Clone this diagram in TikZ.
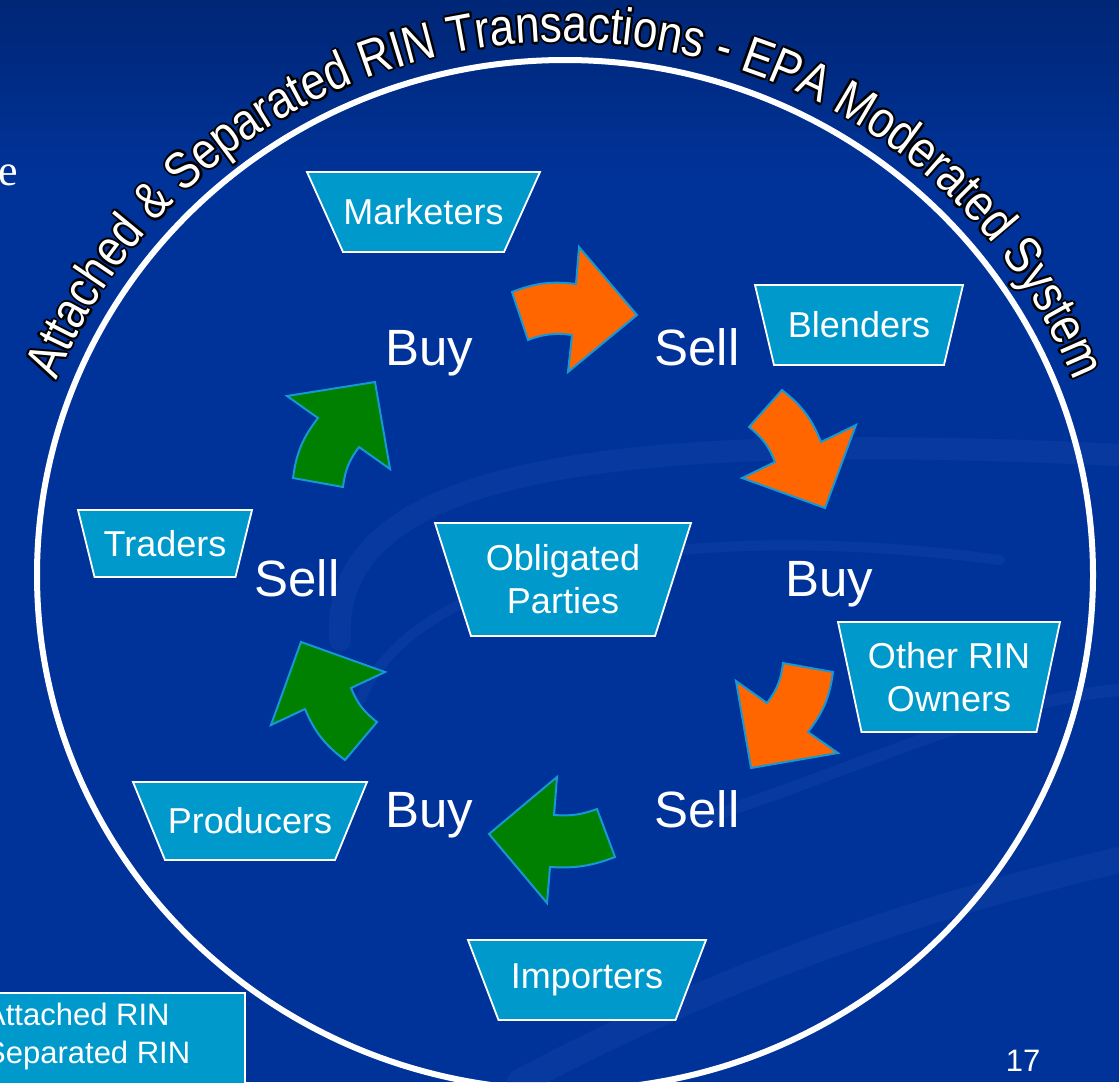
\documentclass[tikz,border=0pt]{standalone}
\usepackage{fontspec}
\setmainfont{Liberation Sans}
\newfontfamily\titlefont[FakeStretch=0.85]{Liberation Sans}
\newfontfamily\serifcut{Liberation Serif}
\usetikzlibrary{decorations.text}

\definecolor{slidenavy}{RGB}{0,38,118}
\definecolor{slideblue}{RGB}{0,51,153}
\definecolor{swirlblue}{RGB}{60,100,190}
\definecolor{partycyan}{RGB}{0,153,204}
\definecolor{rimcyan}{RGB}{22,152,212}
\definecolor{attorange}{RGB}{255,102,0}
\definecolor{sepgreen}{RGB}{0,128,0}

\tikzset{
  partyframe/.style={fill=partycyan, draw=white, line width=1.8pt, line join=miter},
  partytext/.style={text=white, align=center, inner sep=0pt, font=\fontsize{36}{43}\selectfont},
  deal/.style={text=white, inner sep=0pt, anchor=base, font=\fontsize{51}{60}\selectfont},
  attarrow/.style={fill=attorange, draw=rimcyan, line width=2pt, line join=miter},
  separrow/.style={fill=sepgreen, draw=rimcyan, line width=2pt, line join=miter},
  swirl/.style={draw=swirlblue, opacity=0.14, line cap=round},
  small/.style={text=white, inner sep=0pt, font=\fontsize{31}{38}\selectfont},
}
% centre (x,y), half top width : half bottom width : half height
\def\partybox(#1,#2)(#3:#4:#5){\filldraw[partyframe] ({#1-#3},{#2+#5}) -- ({#1+#3},{#2+#5}) -- ({#1+#4},{#2-#5}) -- ({#1-#4},{#2-#5}) -- cycle;}
\def\titletext{|\titlefont\fontsize{52}{54}\selectfont|Attached {\&} Separated RIN Transactions - EPA Moderated System}

\begin{document}
\begin{tikzpicture}[x=1pt,y=1pt]
		%%%%% START %%%%%
		\useasboundingbox (0,0) rectangle (1119,-1082);
		
		% slide background
		\fill[top color=slidenavy, bottom color=slideblue] (0,0) rectangle (1119,-180);
		\fill[slideblue] (0,-180) rectangle (1119,-1082);
		\draw[swirl, line width=22] (340,-640) .. controls (330,-470) and (600,-430) .. (1119,-455);
		\draw[swirl, line width=10] (360,-700) .. controls (420,-560) and (700,-520) .. (1000,-560);
		\draw[swirl, line width=26] (520,-1082) .. controls (750,-960) and (950,-900) .. (1119,-860);
		\draw[swirl, line width=12] (700,-820) .. controls (880,-760) and (1000,-700) .. (1119,-690);
		
		\node[text=white, anchor=base east, inner sep=0pt, font=\serifcut\fontsize{44}{50}\selectfont] (cut) at (18,-185) {e};
		
		% ring and title
		\coordinate (ctr) at (565,-575);
		\draw[white, line width=6] (ctr) ellipse[x radius=528, y radius=515];
		\foreach \a in {0,45,...,315}
			\path[decorate, decoration={text along path, text align=center, text color=black, text=\titletext}]
				([shift={(\a:2.2)}]ctr) ++(170:546 and 533) arc[start angle=170, end angle=10, x radius=546, y radius=533];
		\path[decorate, decoration={text along path, text align=center, text color=white, text=\titletext}]
			(ctr) ++(170:546 and 533) arc[start angle=170, end angle=10, x radius=546, y radius=533];
		
		% parties
		\partybox(423.5,-212)(116.5:80.5:40)
		\node[partytext] (mkt) at (423.5,-212) {Marketers};
		\partybox(859,-325)(104:85:40)
		\node[partytext] (bld) at (859,-325) {Blenders};
		\partybox(165,-543.5)(87:70.5:33.5)
		\node[partytext] (trd) at (165,-543.5) {Traders};
		\partybox(563,-579.5)(128:92:56.5)
		\node[partytext] (obl) at (563,-579.5) {Obligated\\Parties};
		\partybox(949,-677)(111:87.5:55)
		\node[partytext] (oth) at (949,-677) {Other RIN\\Owners};
		\partybox(250,-821)(117:85:39)
		\node[partytext] (prd) at (250,-821) {Producers};
		\partybox(587,-980)(119:88.5:40)
		\node[partytext] (imp) at (587,-980) {Importers};
		
		% buy / sell
		\node[deal] (buya) at (429,-365) {Buy};
		\node[deal] (sella) at (697,-365) {Sell};
		\node[deal] (buyb) at (829,-596) {Buy};
		\node[deal] (sellb) at (697,-827) {Sell};
		\node[deal] (buyc) at (429,-827) {Buy};
		\node[deal] (sellc) at (297,-596) {Sell};
		
		% attached RIN arrows
		\draw[attarrow] (512,-292) to[bend left=14] (576,-284) -- (579,-247) -- (637,-315) -- (568,-372)
			-- (572,-335) to[bend right=14] (528,-340) -- cycle;
		\draw[attarrow] (782,-390) to[bend left=15] (821,-442) -- (856,-425) -- (825,-508) -- (742,-478)
			-- (775,-462) to[bend right=15] (749,-427) -- cycle;
		\draw[attarrow] (833,-672) -- (783,-663) to[bend left=15] (767,-703) -- (736,-681) -- (751,-768)
			-- (838,-753) -- (808,-732) to[bend right=15] cycle;
		
		% separated RIN arrows
		\draw[separrow] (597,-809) to[bend left=12] (554,-815) -- (557,-777) -- (489,-834) -- (547,-903)
			-- (550,-867) to[bend right=12] (615,-857) -- cycle;
		\draw[separrow] (301,-642) -- (385,-672) -- (351,-688) to[bend right=15] (377,-722) -- (345,-760)
			to[bend left=15] (305,-709) -- (271,-725) -- cycle;
		\draw[separrow] (287,-396) -- (375,-382) -- (390,-469) -- (359,-447) to[bend right=15] (343,-487)
			-- (293,-478) to[bend left=15] (318,-418) -- cycle;
		
		% key and page number
		\draw[partyframe] (-22,-993) rectangle (245,-1095);
		\node[small, anchor=base west] (keya) at (-15,-1025) {Attached RIN};
		\node[small, anchor=base west] (keyb) at (-15,-1063) {Separated RIN};
		\node[small, anchor=base] (pagenum) at (1023,-1071) {17};
		
		%%%%% END %%%%%
	\end{tikzpicture}
\end{document}
